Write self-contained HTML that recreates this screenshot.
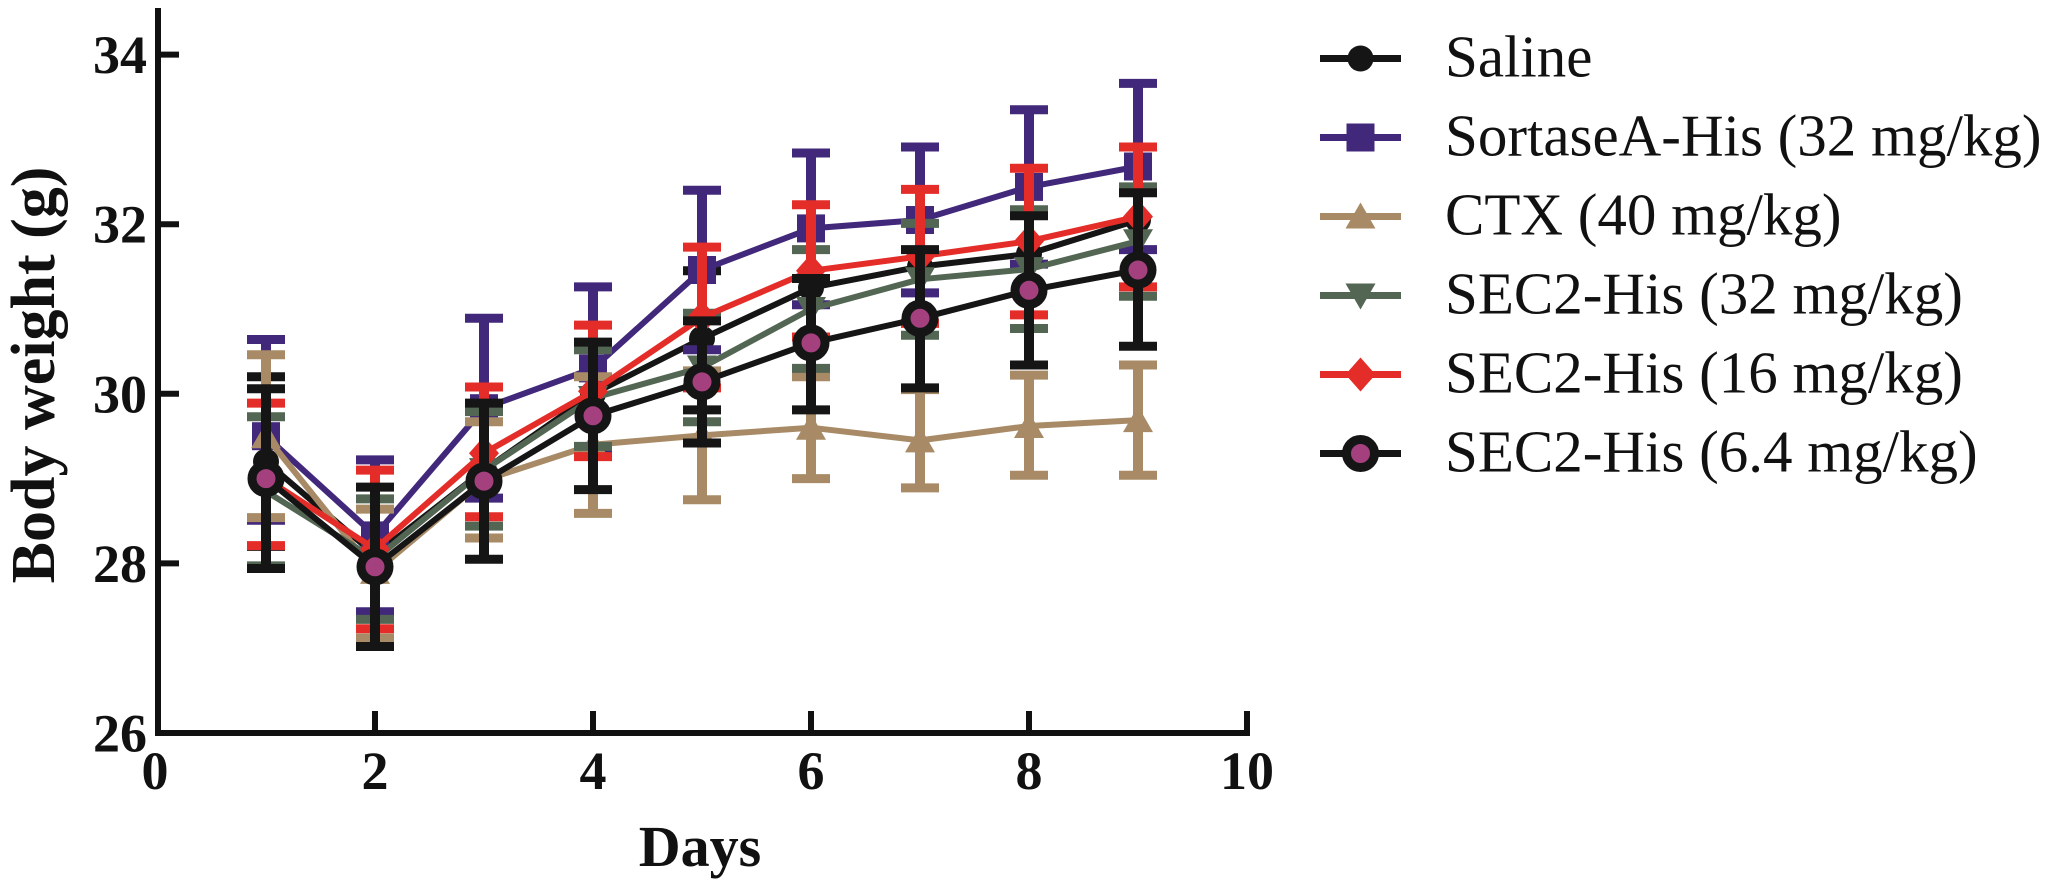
<!DOCTYPE html>
<html>
<head>
<meta charset="utf-8">
<style>
html,body{margin:0;padding:0;background:#fff;}
svg{display:block;}
text{font-family:"Liberation Serif","Times New Roman",serif;fill:#111;}
</style>
</head>
<body>
<svg width="2070" height="884" viewBox="0 0 2070 884" xmlns="http://www.w3.org/2000/svg">
<defs>
<marker id="mS" viewBox="0 0 40 40" refX="20" refY="20" markerWidth="40" markerHeight="40" markerUnits="userSpaceOnUse" overflow="visible"><circle cx="20" cy="20" r="13" fill="#151515"/></marker>
<marker id="mP" viewBox="0 0 40 40" refX="20" refY="20" markerWidth="40" markerHeight="40" markerUnits="userSpaceOnUse" overflow="visible"><rect x="6" y="6" width="28" height="28" fill="#41287a"/></marker>
<marker id="mT" viewBox="0 0 40 40" refX="20" refY="20" markerWidth="40" markerHeight="40" markerUnits="userSpaceOnUse" overflow="visible"><polygon points="20,6 5,32 35,32" fill="#a88b66"/></marker>
<marker id="mG" viewBox="0 0 40 40" refX="20" refY="20" markerWidth="40" markerHeight="40" markerUnits="userSpaceOnUse" overflow="visible"><polygon points="5,8 35,8 20,34" fill="#536653"/></marker>
<marker id="mR" viewBox="0 0 40 40" refX="20" refY="20" markerWidth="40" markerHeight="40" markerUnits="userSpaceOnUse" overflow="visible"><polygon points="20,3 35,20 20,37 5,20" fill="#e42d28"/></marker>
<marker id="mM" viewBox="0 0 50 50" refX="25" refY="25" markerWidth="50" markerHeight="50" markerUnits="userSpaceOnUse" overflow="visible"><circle cx="25" cy="25" r="14" fill="#a5407f" stroke="#151515" stroke-width="9"/></marker>
</defs>

<!-- Axes -->
<g stroke="#111" stroke-width="6" fill="none">
<path d="M158 8V736"/>
<path d="M155 733H1250"/>
<path d="M158 54.6H179M158 224.2H179M158 393.8H179M158 563.4H179"/>
<path d="M375 733V711M593 733V711M811 733V711M1029 733V711M1247 733V711"/>
</g>

<!-- Tick labels -->
<g font-size="54" font-weight="bold" text-anchor="end">
<text x="147" y="73">34</text>
<text x="147" y="242.7">32</text>
<text x="147" y="412.3">30</text>
<text x="147" y="582">28</text>
<text x="147" y="751.5">26</text>
</g>
<g font-size="54" font-weight="bold" text-anchor="middle">
<text x="155" y="789">0</text>
<text x="375" y="789">2</text>
<text x="593" y="789">4</text>
<text x="811" y="789">6</text>
<text x="1029" y="789">8</text>
<text x="1247" y="789">10</text>
</g>

<!-- Axis titles -->
<text transform="translate(54,375) rotate(-90)" font-size="62" font-weight="bold" text-anchor="middle">Body weight (g)</text>
<text x="700" y="866" font-size="58" font-weight="bold" text-anchor="middle">Days</text>

<!-- Saline -->
<g fill="none" stroke-linecap="butt">
<path stroke="#151515" stroke-width="10" d="M266 376.8V546.4M702 270.8V409.9"/>
<path stroke="#151515" stroke-width="9" d="M247 376.8h38M247 546.4h38M683 270.8h38M683 409.9h38"/>
<polyline stroke="#151515" stroke-width="6" stroke-linejoin="round" marker-start="url(#mS)" marker-mid="url(#mS)" marker-end="url(#mS)" points="266,461.6 375,554.9 484,470.1 593,393.8 702,338.7 811,287.8 920,266.6 1029,253.9 1138,220"/>
</g>

<!-- SortaseA -->
<g fill="none">
<path stroke="#41287a" stroke-width="10" d="M266 339.5V520.2M375 459.9V611.7M484 318.3V498.1M593 286.9V449.8M702 190.3V349.7M811 153V304.8M920 147V292.9M1029 109.7V264.1M1138 83.4V249.6"/>
<path stroke="#41287a" stroke-width="9" d="M247 339.5h38M247 520.2h38M356 459.9h38M356 611.7h38M465 318.3h38M465 498.1h38M574 286.9h38M574 449.8h38M683 190.3h38M683 349.7h38M792 153h38M792 304.8h38M901 147h38M901 292.9h38M1010 109.7h38M1010 264.1h38M1119 83.4h38M1119 249.6h38"/>
<polyline stroke="#41287a" stroke-width="6" stroke-linejoin="round" marker-start="url(#mP)" marker-mid="url(#mP)" marker-end="url(#mP)" points="266,436.2 375,535.4 484,408.2 593,368.4 702,270 811,228.4 920,220 1029,186.9 1138,166.5"/>
</g>

<!-- CTX -->
<g fill="none">
<path stroke="#a88b66" stroke-width="10" d="M266 354.8V517.6M375 509.1V638M484 421.8V538M593 376.8V513.4M702 370.9V499.8M811 376.8V478.6M920 389.6V487.9M1029 375.1V475.2M1138 365V475.2"/>
<path stroke="#a88b66" stroke-width="9" d="M247 354.8h38M247 517.6h38M356 509.1h38M356 638h38M465 421.8h38M465 538h38M574 376.8h38M574 513.4h38M683 370.9h38M683 499.8h38M792 376.8h38M792 478.6h38M901 389.6h38M901 487.9h38M1010 375.1h38M1010 475.2h38M1119 365h38M1119 475.2h38"/>
<polyline stroke="#a88b66" stroke-width="6" stroke-linejoin="round" marker-start="url(#mT)" marker-mid="url(#mT)" marker-end="url(#mT)" points="266,436.2 375,571.9 484,480.3 593,444.7 702,435.4 811,427.7 920,440.4 1029,426 1138,420.1"/>
</g>

<!-- SEC2 32 -->
<g fill="none">
<path stroke="#536653" stroke-width="10" d="M266 416.7V565.9M375 498.9V619.4M484 411.6V526.1M593 349.7V446.4M702 313.2V421.8M811 249.6V368.4M920 223.4V335.3M1029 209.8V328.5M1138 186.9V296.3"/>
<path stroke="#536653" stroke-width="9" d="M247 416.7h38M247 565.9h38M356 498.9h38M356 619.4h38M465 411.6h38M465 526.1h38M574 349.7h38M574 446.4h38M683 313.2h38M683 421.8h38M792 249.6h38M792 368.4h38M901 223.4h38M901 335.3h38M1010 209.8h38M1010 328.5h38M1119 186.9h38M1119 296.3h38"/>
<polyline stroke="#536653" stroke-width="6" stroke-linejoin="round" marker-start="url(#mG)" marker-mid="url(#mG)" marker-end="url(#mG)" points="266,491.3 375,559.2 484,470.1 593,398 702,367.5 811,309 920,279.3 1029,269.1 1138,241.2"/>
</g>

<!-- SEC2 16 -->
<g fill="none">
<path stroke="#e42d28" stroke-width="10" d="M266 403.1V545.6M375 470.1V628.7M484 387V516.8M593 325.1V456.6M702 247.1V387.9M811 204.7V337M920 189.4V323.4M1029 168.2V314.9M1138 147V286.9"/>
<path stroke="#e42d28" stroke-width="9" d="M247 403.1h38M247 545.6h38M356 470.1h38M356 628.7h38M465 387h38M465 516.8h38M574 325.1h38M574 456.6h38M683 247.1h38M683 387.9h38M792 204.7h38M792 337h38M901 189.4h38M901 323.4h38M1010 168.2h38M1010 314.9h38M1119 147h38M1119 286.9h38"/>
<polyline stroke="#e42d28" stroke-width="6" stroke-linejoin="round" marker-start="url(#mR)" marker-mid="url(#mR)" marker-end="url(#mR)" points="266,478.6 375,549 484,453.2 593,391.3 702,317.5 811,270.8 920,256.4 1029,241.2 1138,216.6"/>
</g>

<!-- SEC2 6.4 -->
<g fill="none">
<path stroke="#151515" stroke-width="10" d="M266 388.7V568.5M375 487.1V646.5M484 403.1V559.2M593 342.1V489.6M702 320.9V443M811 278.5V409.9M920 249.6V387.9M1029 215.7V365M1138 192.8V346.3"/>
<path stroke="#151515" stroke-width="9" d="M247 388.7h38M247 568.5h38M356 487.1h38M356 646.5h38M465 403.1h38M465 559.2h38M574 342.1h38M574 489.6h38M683 320.9h38M683 443h38M792 278.5h38M792 409.9h38M901 249.6h38M901 387.9h38M1010 215.7h38M1010 365h38M1119 192.8h38M1119 346.3h38"/>
<polyline stroke="#151515" stroke-width="6" stroke-linejoin="round" marker-start="url(#mM)" marker-mid="url(#mM)" marker-end="url(#mM)" points="266,478.6 375,566.8 484,481.1 593,415.8 702,381.9 811,342.9 920,318.3 1029,290.3 1138,270"/>
</g>

<!-- Legend -->
<g fill="none" stroke-width="7">
<path stroke="#151515" d="M1320 58.5H1360.5H1401" marker-mid="url(#mS)"/>
<path stroke="#41287a" d="M1320 137.5H1360.5H1401" marker-mid="url(#mP)"/>
<path stroke="#a88b66" d="M1320 216.5H1360.5H1401" marker-mid="url(#mT)"/>
<path stroke="#536653" d="M1320 295.5H1360.5H1401" marker-mid="url(#mG)"/>
<path stroke="#e42d28" d="M1320 374.5H1360.5H1401" marker-mid="url(#mR)"/>
<path stroke="#151515" d="M1320 453.5H1360.5H1401" marker-mid="url(#mM)"/>
</g>
<g font-size="59">
<text x="1445" y="76.5">Saline</text>
<text x="1445" y="155.5">SortaseA-His (32 mg/kg)</text>
<text x="1445" y="234.5">CTX (40 mg/kg)</text>
<text x="1445" y="313.5">SEC2-His (32 mg/kg)</text>
<text x="1445" y="392.5">SEC2-His (16 mg/kg)</text>
<text x="1445" y="471.5">SEC2-His (6.4 mg/kg)</text>
</g>
</svg>
</body>
</html>
